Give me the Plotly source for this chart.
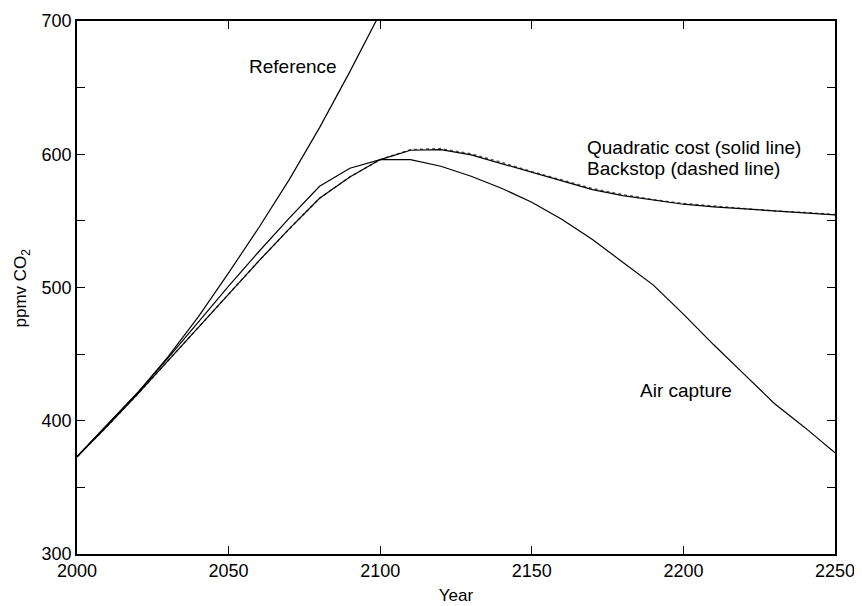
import plotly.graph_objects as go

years = [2000, 2010, 2020, 2030, 2040, 2050, 2060, 2070, 2080, 2090, 2100, 2110,
         2120, 2130, 2140, 2150, 2160, 2170, 2180, 2190, 2200, 2210, 2220, 2230, 2240, 2250]

ref_years = [2000, 2010, 2020, 2030, 2040, 2050, 2060, 2070, 2080, 2090, 2100, 2110]
reference = [373, 397, 421, 448, 478, 511, 545, 581, 620, 662, 705, 750]

quadratic = [373, 396, 420, 445, 470, 495, 520, 544, 567, 583, 596, 603,
             603.5, 599.5, 593, 586, 579.5, 573.5, 569, 565.5, 562.5, 560.5, 559, 557, 556, 554.5]

backstop = [373, 396, 420, 445, 470, 495, 520, 544, 567, 583, 596, 603.5,
            604.3, 600.3, 594, 587, 580.5, 574.3, 569.7, 566, 563, 561, 559.5, 557.5, 556.3, 554.8]

air_capture = [373, 397, 421, 447, 474, 501, 527, 552, 576, 589.5, 596, 596,
               591, 583.5, 574.5, 564, 551, 536, 519, 502, 480, 457, 435, 413, 395, 376]

y_ticks = [300, 400, 500, 600, 700]
y_minor = [350, 450, 550, 650]
x_ticks = [2000, 2050, 2100, 2150, 2200, 2250]

fig = go.Figure()
line_style = dict(color="black", width=1.2)
fig.add_trace(go.Scatter(x=ref_years, y=reference, mode="lines", line=line_style))
fig.add_trace(go.Scatter(x=years, y=backstop, mode="lines",
                         line=dict(color="#555555", width=1.4, dash="dot")))
fig.add_trace(go.Scatter(x=years, y=quadratic, mode="lines", line=line_style))
fig.add_trace(go.Scatter(x=years, y=air_capture, mode="lines", line=line_style))

font_fam = "Liberation Sans, Arial, sans-serif"
ann_font = dict(family=font_fam, size=19, color="black")
fig.add_annotation(x=2071.2, y=665.5, text="Reference", showarrow=False, font=ann_font,
                   xanchor="center", yanchor="middle")
fig.add_annotation(x=2167.5, y=605.4, text="Quadratic cost (solid line)", showarrow=False,
                   font=ann_font, xanchor="left", yanchor="middle")
fig.add_annotation(x=2167.5, y=589, text="Backstop (dashed line)", showarrow=False,
                   font=ann_font, xanchor="left", yanchor="middle")
fig.add_annotation(x=2201, y=423, text="Air capture", showarrow=False, font=ann_font,
                   xanchor="center", yanchor="middle")
fig.add_annotation(xref="paper", yref="paper", x=-0.0726, y=0.5, text="ppmv CO<sub>2</sub>",
                   textangle=-90, showarrow=False, xanchor="center", yanchor="middle",
                   font=dict(family=font_fam, size=17, color="black"))

axis_common = dict(showline=True, linecolor="black", linewidth=1.5, mirror="ticks",
                   ticks="inside", ticklen=8, tickcolor="black", tickwidth=1,
                   showgrid=False, zeroline=False, automargin=False,
                   tickfont=dict(family=font_fam, size=18, color="black"))

fig.update_layout(
    width=854, height=598,
    margin=dict(l=69, r=27, t=13, b=52),
    plot_bgcolor="white", paper_bgcolor="white",
    showlegend=False,
    font=dict(family=font_fam, size=18, color="black"),
    xaxis=dict(range=[2000, 2250], tickvals=x_ticks,
               title=dict(text="Year", font=dict(family=font_fam, size=17), standoff=9),
               **axis_common),
    yaxis=dict(range=[300, 700], tickvals=y_ticks,
               minor=dict(tickvals=y_minor, ticks="inside", ticklen=8,
                          tickcolor="black", tickwidth=1),
               **axis_common),
)

fig.write_html("out.html")
